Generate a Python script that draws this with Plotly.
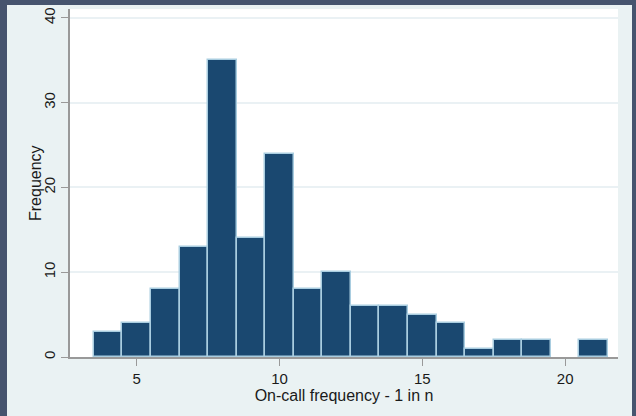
import plotly.graph_objects as go

# Data: histogram bins (width 1) centred on integers
bin_centers = [4, 5, 6, 7, 8, 9, 10, 11, 12, 13, 14, 15, 16, 17, 18, 19, 20, 21]
frequencies = [3, 4, 8, 13, 35, 14, 24, 8, 10, 6, 6, 5, 4, 1, 2, 2, 0, 2]
x_ticks = [5, 10, 15, 20]
y_ticks = [0, 10, 20, 30, 40]
x_title = "On-call frequency - 1 in n"
y_title = "Frequency"

W, H = 636, 416
L, R, T, B = 70, 18, 9, 59
pw, ph = W - L - R, H - T - B

BAR = "#1a4870"
EDGE = "#a9cde0"
PAPER = "#eaf2f3"
DARK = "#46546e"
AXIS = "#999999"
FONT = "Liberation Sans, Arial, sans-serif"

fig = go.Figure()
fig.add_trace(go.Bar(
    x=bin_centers, y=frequencies, width=1,
    marker=dict(color=BAR, line=dict(color=EDGE, width=[1.5 if f > 0 else 0 for f in frequencies])),
    showlegend=False,
))

def px_x(p):
    return (p - L) / pw

def px_y(p):
    return 1 - (p - T) / ph

shapes = [
    dict(type="rect", xref="paper", yref="paper", x0=px_x(0), x1=px_x(7), y0=px_y(H), y1=px_y(0),
         fillcolor=DARK, line=dict(width=0), layer="above"),
    dict(type="rect", xref="paper", yref="paper", x0=px_x(632), x1=px_x(W), y0=px_y(H), y1=px_y(0),
         fillcolor=DARK, line=dict(width=0), layer="above"),
    dict(type="rect", xref="paper", yref="paper", x0=px_x(0), x1=px_x(W), y0=px_y(5), y1=px_y(0),
         fillcolor=DARK, line=dict(width=0), layer="above"),
]

fig.update_layout(
    width=W, height=H,
    margin=dict(l=L, r=R, t=T, b=B, autoexpand=False),
    paper_bgcolor=PAPER, plot_bgcolor="white",
    font=dict(family=FONT, size=15, color="#1a1a1a"),
    bargap=0,
    shapes=shapes,
    xaxis=dict(
        range=[2.665, 21.85], tickvals=x_ticks, showgrid=False, zeroline=False,
        showline=True, linecolor=AXIS, linewidth=1.5,
        ticks="outside", ticklen=7, tickcolor=AXIS, tickwidth=1.2,
        tickfont=dict(size=15),
        title=dict(text=x_title, font=dict(size=16), standoff=2),
    ),
    yaxis=dict(
        range=[0, 41.06], tickvals=y_ticks, showgrid=True, gridcolor="#eaf1f4", gridwidth=1.5,
        zeroline=False, showline=True, linecolor=AXIS, linewidth=1.5,
        ticks="outside", ticklen=7, tickcolor=AXIS, tickwidth=1.2,
        tickangle=-90, tickfont=dict(size=15),
    ),
    annotations=[
        dict(text=y_title, xref="paper", yref="paper", x=px_x(35), y=0.5,
             xanchor="center", yanchor="middle", textangle=-90, showarrow=False,
             font=dict(size=16)),
    ],
)

fig.write_html(
    "out.html",
    config={"displayModeBar": False},
    post_script="document.body.style.margin='0';document.body.style.overflow='hidden';",
)
